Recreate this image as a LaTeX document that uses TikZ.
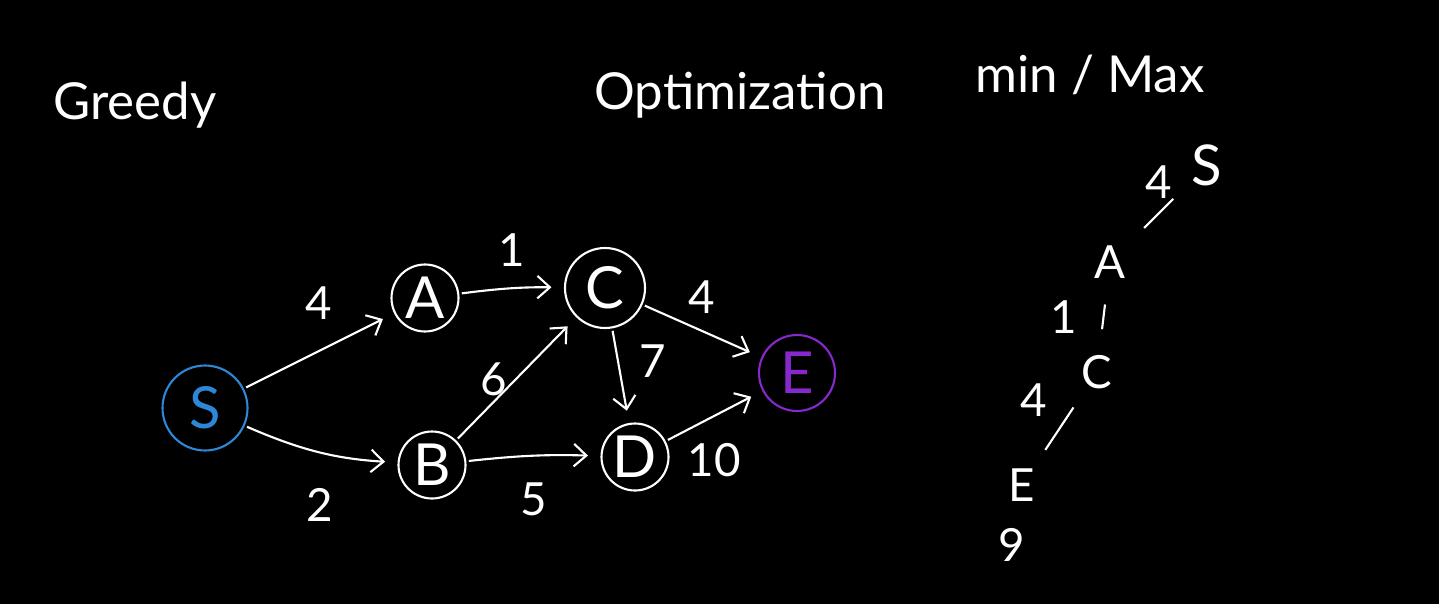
\documentclass[tikz,border=0pt]{standalone}
\usepackage{fontspec}
\setmainfont{Lato}
\usetikzlibrary{arrows.meta}
\definecolor{sblue}{RGB}{45,135,215}
\definecolor{epurple}{RGB}{135,40,205}
\begin{document}
\begin{tikzpicture}[
  vert/.style={circle, draw=#1, text=#1, line width=1.2pt, inner sep=0pt,
    minimum size=1.34cm, font=\fontsize{33}{35}\selectfont},
  vert/.default=white,
  wt/.style={text=white, font=\fontsize{26}{28}\selectfont},
  title/.style={text=white, font=\fontsize{29}{34}\selectfont},
  tree/.style={text=white, font=\fontsize{26}{28}\selectfont},
  arr/.style={-{Straight Barb[length=2.5mm,width=4.5mm]}, white, line width=1.2pt,
    shorten >=2.5mm, shorten <=0.5mm},
  tline/.style={white, line width=1.2pt, shorten >=3.5mm, shorten <=3.5mm}
]
\useasboundingbox[fill=black] (0,0) rectangle (28.78,12.08);

\node[title] (greedy) at (2.70,9.98) {Greedy};
\node[title] (optim) at (14.80,10.18) {Optimization};
\node[title] (minmax) at (21.80,10.58) {min / Max};

\node[vert=sblue, minimum size=1.7cm] (S) at (4.10,3.92) {S};
\node[vert] (A) at (8.50,6.12) {A};
\node[vert] (B) at (8.64,2.78) {B};
\node[vert, minimum size=1.6cm] (C) at (12.10,6.32) {C};
\node[vert] (D) at (12.70,2.94) {D};
\node[vert=epurple, minimum size=1.52cm] (E) at (15.94,4.62) {E};

\draw[arr] (S) -- node[wt, midway, above=5mm] {4} (A);
\draw[arr] (S) to[bend right=10] node[wt, midway, below=6mm] {2} (B);
\draw[arr] (A) to[bend left=4] node[wt, midway, above=3mm] {1} (C);
\draw[arr] (B) -- node[wt, midway, left=0.5mm] {6} (C);
\draw[arr] (C) -- node[wt, pos=0.35, right=3mm] {7} (D);
\draw[arr] (C) -- node[wt, midway, above=2mm] {4} (E);
\draw[arr] (B) to[bend left=4] node[wt, midway, below=4mm] {5} (D);
\draw[arr] (D) -- node[wt, midway, below=4mm] {10} (E);

% path picked by greedy
\node[tree, font=\fontsize{32}{34}\selectfont] (tS) at (24.14,8.78) {S};
\node[tree] (tA) at (22.20,6.84) {A};
\node[tree] (tC) at (21.94,4.64) {C};
\node[tree] (tE) at (20.44,2.38) {E};
\node[tree] (total) at (20.24,1.18) {9};

\draw[tline] (tS) -- node[tree, midway, above=1.5mm] {4} (tA);
\draw[tline, shorten <=4mm, shorten >=4mm] (tA) -- node[tree, midway, left=4mm] {1} (tC);
\draw[tline, shorten <=3mm, shorten >=3mm] (tC) -- node[tree, midway, above left=1mm] {4} (tE);
\end{tikzpicture}
\end{document}
